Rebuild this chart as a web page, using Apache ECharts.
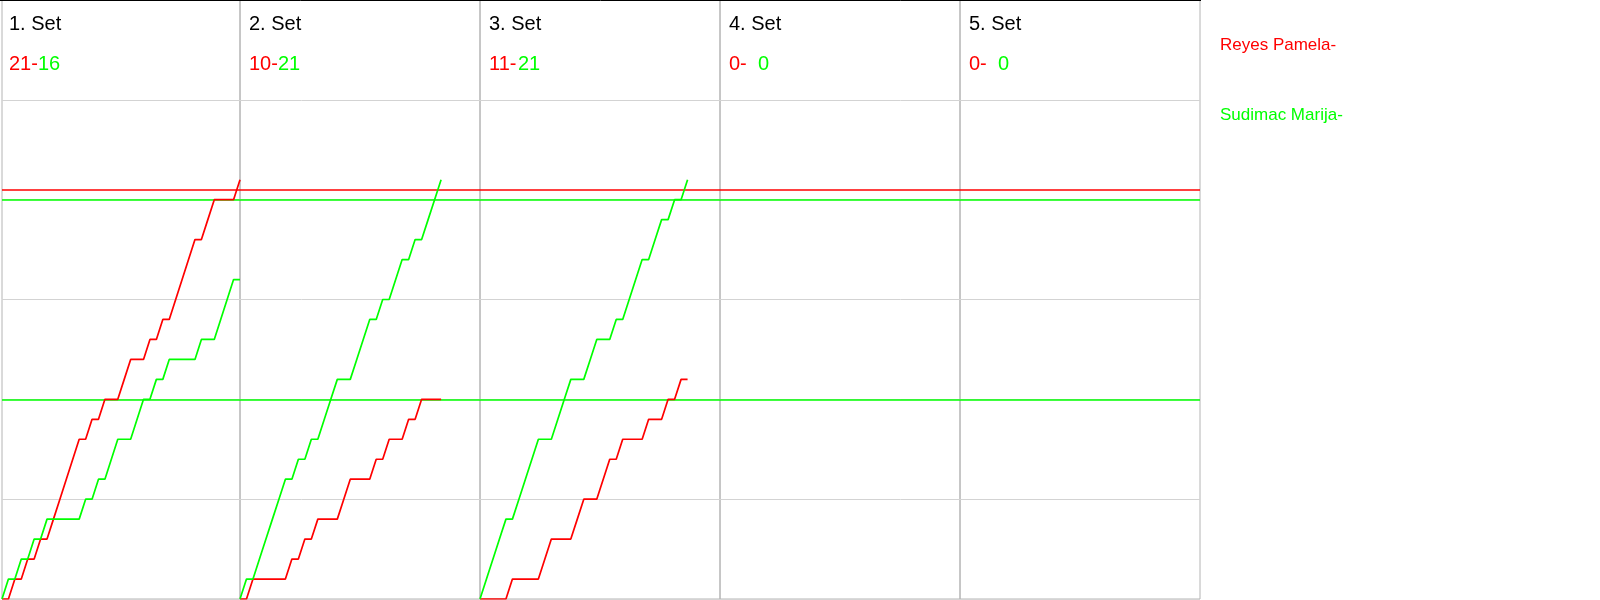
<!DOCTYPE html>
<html>
<head>
<meta charset="utf-8">
<script src="https://cdn.jsdelivr.net/npm/echarts@6/dist/echarts.min.js"></script>
<style>
html,body{margin:0;padding:0;background:#fff;}
#chart{width:1600px;height:600px;}
</style>
</head>
<body>
<div id="chart"></div>
<script>
// ---- data ----
const playerRed = 'Reyes Pamela';
const playerGreen = 'Sudimac Marija';
const setLabels = ['1. Set', '2. Set', '3. Set', '4. Set', '5. Set'];
const setScoresRed = [21, 10, 11, 0, 0];
const setScoresGreen = [16, 21, 21, 0, 0];

// running score after each rally (index = rally number)
const set1Red   = [0,0,1,1,2,2,3,3,4,5,6,7,8,8,9,9,10,10,10,11,12,12,12,13,13,14,14,15,16,17,18,18,19,20,20,20,20,21];
const set1Green = [0,1,1,2,2,3,3,4,4,4,4,4,4,5,5,6,6,7,8,8,8,9,10,10,11,11,12,12,12,12,12,13,13,13,14,15,16,16];
const set2Red   = [0,0,1,1,1,1,1,1,2,2,3,3,4,4,4,4,5,6,6,6,6,7,7,8,8,8,9,9,10,10,10,10];
const set2Green = [0,1,1,2,3,4,5,6,6,7,7,8,8,9,10,11,11,11,12,13,14,14,15,15,16,17,17,18,18,19,20,21];
const set3Red   = [0,0,0,0,0,1,1,1,1,1,2,3,3,3,3,4,5,5,5,6,7,7,8,8,8,8,9,9,9,10,10,11,11];
const set3Green = [0,1,2,3,4,4,5,6,7,8,8,8,9,10,11,11,11,12,13,13,13,14,14,15,16,17,17,18,19,19,20,20,21];

const refLinesRed = [20.5];
const refLinesGreen = [20, 10];

// ---- styling ----
const RED = '#ff0000';
const GREEN = '#00ff00';
const FONT = 'Liberation Sans, Arial, sans-serif';
const MAX_RALLIES = 37;
const MAX_SCORE = 30;

const setsRed = [set1Red, set2Red, set3Red, [], []];
const setsGreen = [set1Green, set2Green, set3Green, [], []];
const colLeft = [2, 240, 480, 720, 960];
const colWidth = [238, 240, 240, 240, 240];
const textLeft = [9, 249, 489, 729, 969];

const grids = [], xAxes = [], yAxes = [], series = [], titles = [];

// background grid (full width) carrying horizontal grid lines and reference lines
grids.push({left: 2, top: 0, width: 1198, height: 599, show: false});
xAxes.push({gridIndex: 0, type: 'value', min: 0, max: 1, show: false});
yAxes.push({gridIndex: 0, type: 'value', min: 0, max: MAX_SCORE, interval: 5,
  axisLine: {show: false}, axisTick: {show: false}, axisLabel: {show: false},
  splitLine: {show: true, lineStyle: {color: '#d3d3d3', width: 1}}});
series.push({
  type: 'line', xAxisIndex: 0, yAxisIndex: 0, data: [], silent: true,
  markLine: {
    silent: true, symbol: ['none', 'none'], label: {show: false}, animation: false,
    data: refLinesRed.map(v => ({yAxis: v, lineStyle: {color: RED, width: 1.5, type: 'solid'}}))
      .concat(refLinesGreen.map(v => ({yAxis: v, lineStyle: {color: GREEN, width: 1.5, type: 'solid'}})))
  }
});

for (let i = 0; i < 5; i++) {
  const gi = i + 1;
  grids.push({left: colLeft[i], top: 0, width: colWidth[i], height: 599,
    show: true, borderColor: '#b4b4b4', borderWidth: 1, backgroundColor: 'transparent'});
  xAxes.push({gridIndex: gi, type: 'value', min: 0, max: MAX_RALLIES, show: false});
  yAxes.push({gridIndex: gi, type: 'value', min: 0, max: MAX_SCORE, show: false});
  if (setsRed[i].length) {
    series.push({name: playerRed, type: 'line', xAxisIndex: gi, yAxisIndex: gi,
      data: setsRed[i].map((v, k) => [k, v]), showSymbol: false, symbol: 'none',
      lineStyle: {color: RED, width: 1.7}, itemStyle: {color: RED}, z: 5});
    series.push({name: playerGreen, type: 'line', xAxisIndex: gi, yAxisIndex: gi,
      data: setsGreen[i].map((v, k) => [k, v]), showSymbol: false, symbol: 'none',
      lineStyle: {color: GREEN, width: 1.7}, itemStyle: {color: GREEN}, z: 5});
  }
  titles.push({text: setLabels[i], left: textLeft[i], top: 14, padding: 0,
    textStyle: {fontSize: 20, fontWeight: 'normal', color: '#000', fontFamily: FONT}});
  titles.push({text: '{r|' + setScoresRed[i] + '-}{g|' + setScoresGreen[i] + '}',
    left: textLeft[i], top: 54, padding: 0,
    textStyle: {fontSize: 20, fontWeight: 'normal', fontFamily: FONT, rich: {
      r: {color: RED, fontSize: 20, fontWeight: 'normal', fontFamily: FONT, width: 29},
      g: {color: GREEN, fontSize: 20, fontWeight: 'normal', fontFamily: FONT}
    }}});
}

const chart = echarts.init(document.getElementById('chart'));
chart.setOption({
  animation: false,
  backgroundColor: '#fff',
  title: titles,
  legend: {
    orient: 'vertical', left: 1215, top: 37, padding: 0, itemGap: 53,
    icon: 'none', itemWidth: 0, itemHeight: 0, formatter: '{name}-',
    textStyle: {fontSize: 17, fontFamily: FONT},
    data: [
      {name: playerRed, textStyle: {color: RED}},
      {name: playerGreen, textStyle: {color: GREEN}}
    ]
  },
  grid: grids,
  xAxis: xAxes,
  yAxis: yAxes,
  series: series,
  graphic: [{type: 'line', shape: {x1: 0, y1: 0.5, x2: 1201, y2: 0.5},
    style: {stroke: '#000', lineWidth: 1}, silent: true, z: 100}]
});
</script>
</body>
</html>
